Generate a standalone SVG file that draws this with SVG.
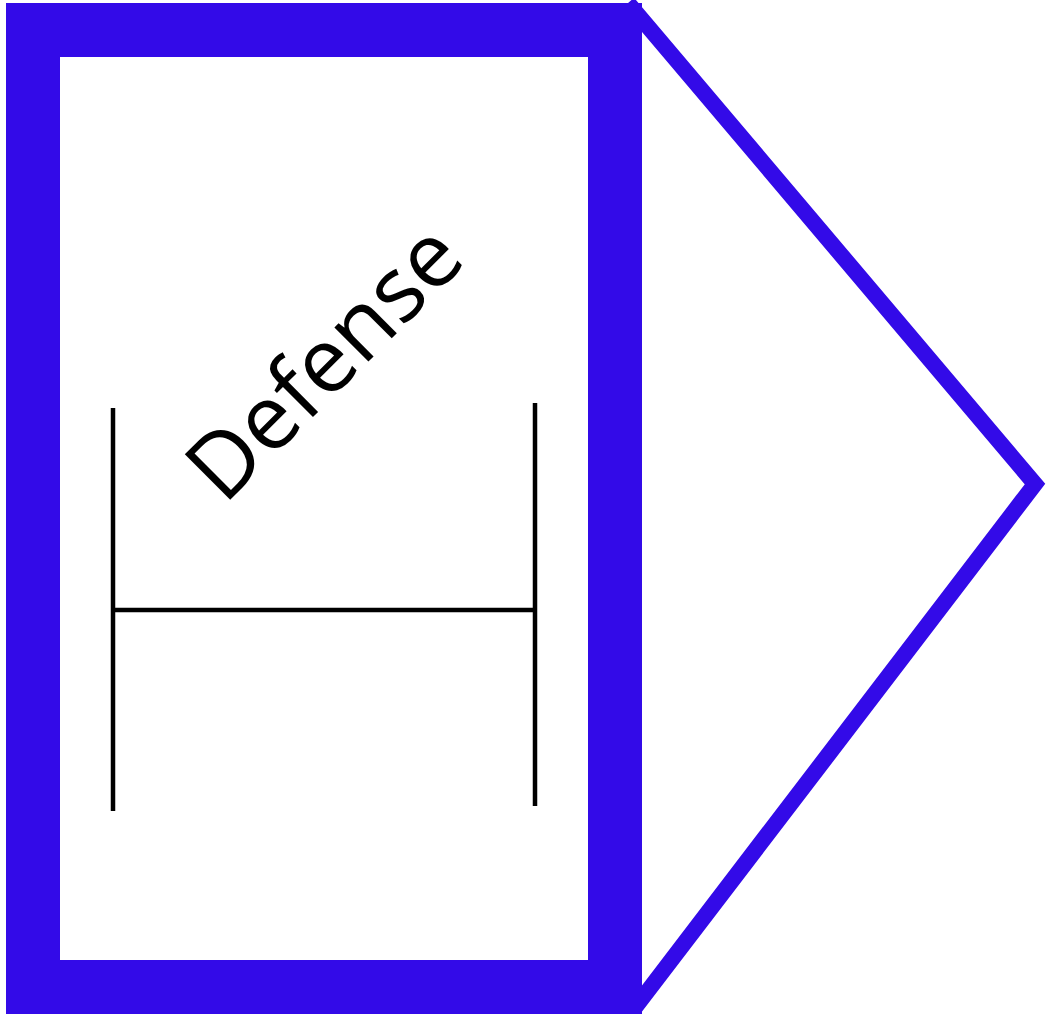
<svg xmlns="http://www.w3.org/2000/svg" width="1046" height="1015" viewBox="0 0 1046 1015">
  <style>
    .frame { fill: #ffffff; stroke: #330ae8; stroke-width: 54; }
    .arrow { fill: none; stroke: #330ae8; stroke-width: 16; stroke-linejoin: miter; }
    .bar { stroke: #000000; stroke-width: 4.5; fill: none; }
    .label { font-family: "Open Sans", "Noto Sans", sans-serif; font-size: 90px; fill: #000000; }
  </style>
  <rect x="0" y="0" width="1046" height="1015" fill="#ffffff"/>
  <g id="pointer">
    <path class="arrow" d="M628,3 L1035,484 L634,1009"/>
  </g>
  <g id="box">
    <rect class="frame" x="33" y="30" width="582" height="957"/>
  </g>
  <g id="connectors">
    <line class="bar" x1="113" y1="408" x2="113" y2="811"/>
    <line class="bar" x1="535" y1="403" x2="535" y2="806"/>
    <line class="bar" x1="113" y1="610" x2="535" y2="610"/>
  </g>
  <g id="label">
    <text class="label" x="224" y="506" transform="rotate(-45 224 506)">Defense</text>
  </g>
</svg>
